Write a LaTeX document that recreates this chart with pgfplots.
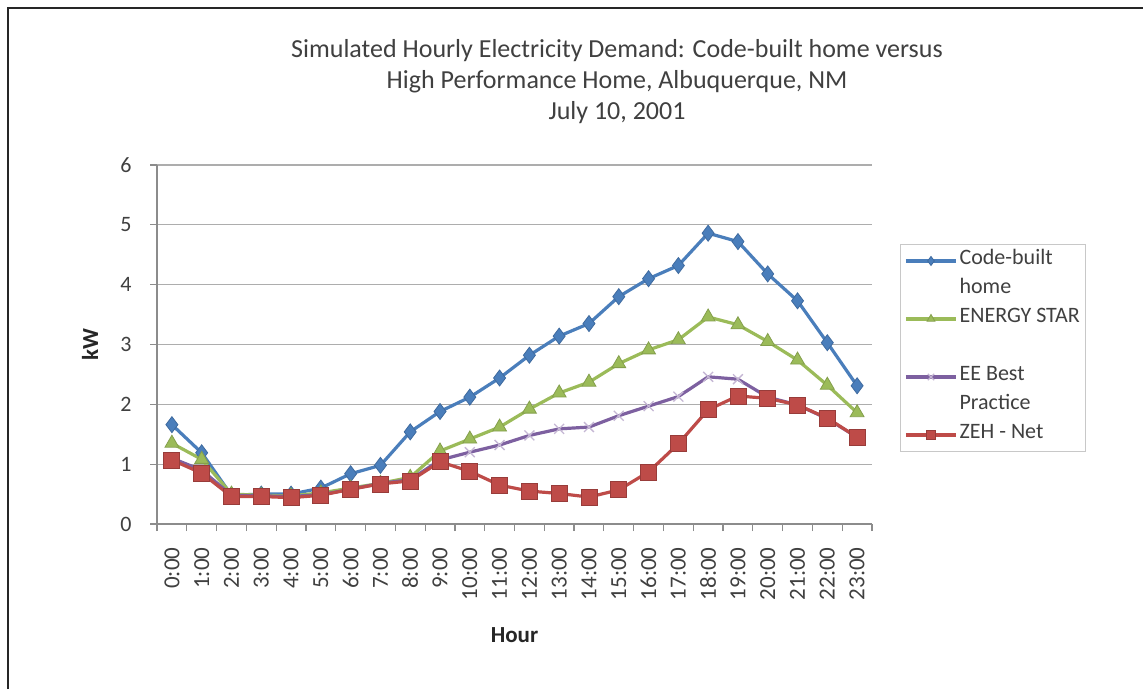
\documentclass[border=0pt]{standalone}
\usepackage{pgfplots}
\pgfplotsset{compat=1.18}
\usepackage{fontspec}
\setmainfont{Carlito}
\definecolor{cBlue}{HTML}{4A7EBB}
\definecolor{cGreen}{HTML}{9BBB59}
\definecolor{cPurple}{HTML}{7D60A0}
\definecolor{cRed}{HTML}{BE4B48}
\definecolor{cGrid}{HTML}{ADADAD}
\definecolor{cAxis}{HTML}{8C8C8C}
\definecolor{cLegend}{HTML}{C8C8C8}
\definecolor{cText}{HTML}{404040}
\begin{document}
\begin{tikzpicture}[x=1pt,y=1pt]
\useasboundingbox (0,0) rectangle (1143,689);
\fill[white] (0,0) rectangle (1143,689);
\draw[line width=2pt, black!85] (8,0) -- (8,681) -- (1143,681);
\node[align=center, font=\fontsize{26}{31}\selectfont, text=cText] at (617,607)
  {Simulated Hourly Electricity Demand: Code-built home versus\\High Performance Home, Albuquerque, NM\\July 10, 2001};
\begin{axis}[
  at={(157pt,165pt)}, anchor=south west,
  scale only axis, width=715pt, height=359pt,
  xmin=-0.5, xmax=23.5, ymin=0, ymax=6,
  axis x line*=bottom, axis y line*=left,
  axis line style={-, cAxis, line width=1.2pt},
  xtick={-0.5,0.5,...,23.5}, xticklabels={},
  extra x ticks={0,1,...,23},
  extra x tick labels={0:00,1:00,2:00,3:00,4:00,5:00,6:00,7:00,8:00,9:00,10:00,11:00,12:00,13:00,14:00,15:00,16:00,17:00,18:00,19:00,20:00,21:00,22:00,23:00},
  extra x tick style={major tick length=0pt, xticklabel style={rotate=90, anchor=east, font=\fontsize{23}{27}\selectfont}},
  ytick={0,1,...,6},
  ymajorgrids, grid style={cGrid, line width=1.2pt},
  tick align=outside, major tick length=7pt,
  tick style={cAxis, line width=1.2pt},
  /pgf/number format/assume math mode=true,
  ticklabel style={font=\fontsize{22}{26}\selectfont, text=cText},
  xticklabel shift=20pt, yticklabel shift=15pt,
  xlabel={Hour}, ylabel={kW},
  label style={font=\bfseries\fontsize{23}{27}\selectfont, text=black!85},
  xlabel style={at={(axis description cs:0.5,-0.309)}, anchor=center},
  ylabel style={at={(axis description cs:-0.0937,0.5)}, anchor=center},
  legend style={at={(axis description cs:1.039,0.78)}, anchor=north west,
    draw=cLegend, line width=1pt, fill=white,
    font=\fontsize{22}{26}\selectfont, text=cText,
    row sep=0pt, inner xsep=4pt, inner ysep=2pt,
    nodes={inner ysep=1pt, text height=17pt, text depth=10pt}},
  legend cell align=left,
  legend image code/.code={\draw[mark repeat=2, mark phase=2, #1, mark size=4.5pt] plot coordinates {(0pt,0pt) (25pt,0pt) (50pt,0pt)};},
]
\addplot[cBlue, line width=3.2pt, mark=diamond*, mark size=8pt, mark options={solid, fill=cBlue, draw=cBlue!85!black, line width=0.8pt}]
coordinates {(0,1.66)(1,1.19)(2,0.48)(3,0.50)(4,0.50)(5,0.60)(6,0.84)(7,0.98)(8,1.54)(9,1.88)(10,2.12)(11,2.44)(12,2.82)(13,3.14)(14,3.35)(15,3.80)(16,4.10)(17,4.32)(18,4.86)(19,4.72)(20,4.18)(21,3.73)(22,3.03)(23,2.31)};
\addlegendentry{Code-built}
\addlegendimage{empty legend}
\addlegendentry{home}
\addplot[cGreen, line width=3.2pt, mark=triangle*, mark size=8pt, mark options={solid, fill=cGreen, draw=cGreen!85!black, line width=0.8pt}]
coordinates {(0,1.35)(1,1.08)(2,0.50)(3,0.48)(4,0.47)(5,0.52)(6,0.60)(7,0.68)(8,0.78)(9,1.22)(10,1.42)(11,1.62)(12,1.92)(13,2.19)(14,2.37)(15,2.68)(16,2.91)(17,3.08)(18,3.46)(19,3.33)(20,3.05)(21,2.74)(22,2.32)(23,1.86)};
\addlegendentry{ENERGY STAR}
\addlegendimage{empty legend}
\addlegendentry{\mbox{}}
\addplot[cPurple, line width=3.2pt, mark=x, mark size=7pt, mark options={solid, draw=cPurple!45, line width=1.3pt}]
coordinates {(0,1.10)(1,0.90)(2,0.48)(3,0.47)(4,0.46)(5,0.49)(6,0.58)(7,0.68)(8,0.74)(9,1.07)(10,1.20)(11,1.32)(12,1.48)(13,1.59)(14,1.62)(15,1.81)(16,1.97)(17,2.13)(18,2.46)(19,2.42)(20,2.12)(21,1.99)(22,1.76)(23,1.45)};
\addlegendentry{EE Best}
\addlegendimage{empty legend}
\addlegendentry{Practice}
\addplot[cRed, line width=3.2pt, mark=square*, mark size=8pt, mark options={solid, fill=cRed, draw=cRed!80!black, line width=0.8pt}]
coordinates {(0,1.07)(1,0.85)(2,0.46)(3,0.46)(4,0.44)(5,0.48)(6,0.58)(7,0.67)(8,0.72)(9,1.04)(10,0.88)(11,0.65)(12,0.55)(13,0.51)(14,0.45)(15,0.57)(16,0.87)(17,1.34)(18,1.91)(19,2.14)(20,2.10)(21,1.99)(22,1.77)(23,1.45)};
\addlegendentry{ZEH - Net}
\end{axis}
\end{tikzpicture}
\end{document}
